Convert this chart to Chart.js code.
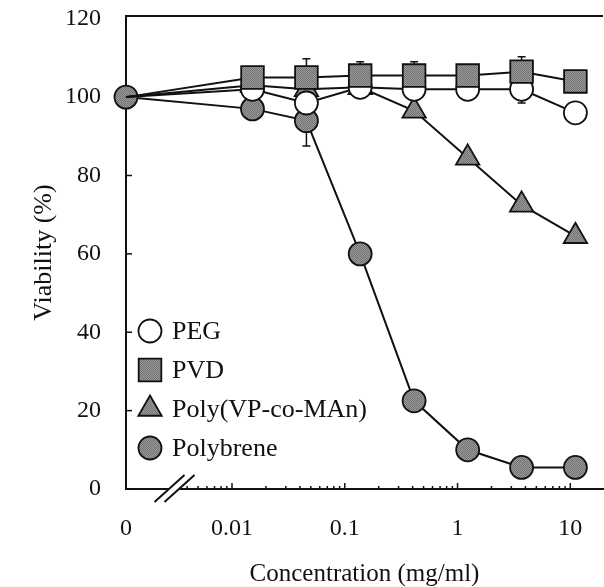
<!DOCTYPE html>
<html>
<head>
<meta charset="utf-8">
<script src="https://cdn.jsdelivr.net/npm/chart.js@4.4.0/dist/chart.umd.min.js"></script>
<style>
  html, body { margin: 0; padding: 0; background: #fff; overflow: hidden; }
  canvas { display: block; }
</style>
</head>
<body>
<canvas id="viability-chart" width="604" height="587"></canvas>
<script>
// Concentrations in mg/ml, 0 is the untreated control
const concentrations = [0, 0.0152, 0.0457, 0.137, 0.412, 1.23, 3.70, 11.1];

// Viability (%) for each polymer
const pegValues = [100, 102, 98.5, 102.5, 102, 102, 102, 96];
const pvdValues = [100, 105, 105, 105.5, 105.5, 105.5, 106.5, 104];
const polyVpValues = [100, 103, 102, 102.5, 96.5, 84.5, 72.5, 64.5];
const polybreneValues = [100, 97, 94, 60, 22.5, 10, 5.5, 5.5];

// Error bars that can be seen on the picture (0 = none visible)
const pegErrors = [0, 0, 0, 0, 0, 0, 3.5, 0];
const pvdErrors = [0, 0, 4.8, 3.5, 3.5, 0, 3.8, 0];
const polyVpErrors = [0, 0, 0, 0, 0, 0, 0, 0];
const polybreneErrors = [0, 0, 6.5, 0, 0, 0, 0, 0];

// Axis ticks
const xTickValues = [0, 0.01, 0.1, 1, 10];
const xTickLabels = ["0", "0.01", "0.1", "1", "10"];
const yTickValues = [0, 20, 40, 60, 80, 100, 120];

// x axis is log10 of the concentration, the control is drawn at the left edge
const X_ZERO = -2.94;
const X_MAX = 1.29;
const X_BREAK = -2.51;

function toX(c) {
  return c === 0 ? X_ZERO : Math.log10(c);
}

// small stippled grey like the printed markers
function makeGrey() {
  const c = document.createElement("canvas");
  c.width = 2;
  c.height = 2;
  const g = c.getContext("2d");
  g.fillStyle = "#9a9a9a";
  g.fillRect(0, 0, 2, 2);
  g.fillStyle = "#727272";
  g.fillRect(0, 0, 1, 1);
  g.fillRect(1, 1, 1, 1);
  return g.createPattern(c, "repeat");
}
const grey = makeGrey();

function points(values) {
  return concentrations.map((c, i) => ({ x: toX(c), y: values[i] }));
}

// only one marker is drawn at the control point
function radiusFor(r) {
  return concentrations.map((c, i) => (i === 0 ? 0 : r));
}

const serif = "'Liberation Serif', 'Times New Roman', serif";
const ink = "#111";

// inward tick marks, error bars, top border, axis break and legend
const decorations = {
  id: "decorations",
  beforeDatasetsDraw(chart) {
    const { ctx, chartArea, scales } = chart;
    const xs = scales.x;
    const ys = scales.y;
    ctx.save();
    ctx.strokeStyle = ink;
    ctx.lineWidth = 1.5;

    // y ticks
    yTickValues.slice(0, -1).forEach((v) => {
      const y = ys.getPixelForValue(v);
      ctx.beginPath();
      ctx.moveTo(chartArea.left, y);
      ctx.lineTo(chartArea.left + 6, y);
      ctx.stroke();
    });

    // x major ticks
    xTickValues.slice(1).forEach((c) => {
      const x = xs.getPixelForValue(toX(c));
      ctx.beginPath();
      ctx.moveTo(x, chartArea.bottom);
      ctx.lineTo(x, chartArea.bottom - 6);
      ctx.stroke();
    });

    // x minor ticks
    for (let d = -3; d <= 1; d++) {
      for (let m = 2; m <= 9; m++) {
        const lx = Math.log10(m) + d;
        if (lx < Math.log10(0.004) || lx > X_MAX) continue;
        const x = xs.getPixelForValue(lx);
        ctx.beginPath();
        ctx.moveTo(x, chartArea.bottom);
        ctx.lineTo(x, chartArea.bottom - 3);
        ctx.stroke();
      }
    }

    // error bars, drawn under the markers
    chart.data.datasets.forEach((ds) => {
      ds.errors.forEach((err, i) => {
        if (!err) return;
        const x = xs.getPixelForValue(toX(concentrations[i]));
        const y1 = ys.getPixelForValue(ds.data[i].y + err);
        const y2 = ys.getPixelForValue(ds.data[i].y - err);
        ctx.beginPath();
        ctx.moveTo(x, y1);
        ctx.lineTo(x, y2);
        ctx.moveTo(x - 4, y1);
        ctx.lineTo(x + 4, y1);
        ctx.moveTo(x - 4, y2);
        ctx.lineTo(x + 4, y2);
        ctx.stroke();
      });
    });

    // top border
    ctx.lineWidth = 2;
    ctx.beginPath();
    ctx.moveTo(chartArea.left - 1, chartArea.top);
    ctx.lineTo(chartArea.right, chartArea.top);
    ctx.stroke();
    ctx.restore();
  },
  afterDraw(chart) {
    const { ctx, chartArea, scales } = chart;
    ctx.save();

    // axis break "//"
    const bx = scales.x.getPixelForValue(X_BREAK);
    const by = chartArea.bottom;
    ctx.fillStyle = "#fff";
    ctx.beginPath();
    ctx.moveTo(bx - 5 - 3, by + 3);
    ctx.lineTo(bx + 5 - 3, by + 3);
    ctx.lineTo(bx + 5 + 3, by - 3);
    ctx.lineTo(bx - 5 + 3, by - 3);
    ctx.closePath();
    ctx.fill();
    ctx.strokeStyle = ink;
    ctx.lineWidth = 2;
    [-5, 5].forEach((dx) => {
      ctx.beginPath();
      ctx.moveTo(bx + dx - 15, by + 13);
      ctx.lineTo(bx + dx + 15, by - 14);
      ctx.stroke();
    });

    // legend inside the plot
    const lx = chartArea.left + 24;
    let ly = 331;
    ctx.font = "26px " + serif;
    ctx.textBaseline = "middle";
    ctx.textAlign = "left";
    chart.data.datasets.forEach((ds) => {
      ctx.fillStyle = ds.pointBackgroundColor;
      ctx.strokeStyle = ink;
      ctx.lineWidth = 1.8;
      Chart.helpers.drawPoint(ctx, {
        pointStyle: ds.pointStyle,
        radius: ds.legendRadius,
        rotation: 0,
        borderWidth: 1.8
      }, lx, ly);
      ctx.fillStyle = ink;
      ctx.fillText(ds.label, lx + 22, ly + 1);
      ly += 39;
    });
    ctx.restore();
  }
};

function makeDataset(label, values, errors, style, r, fill, order) {
  return {
    label: label,
    data: points(values),
    errors: errors,
    order: order,
    borderColor: ink,
    borderWidth: 2,
    tension: 0,
    fill: false,
    pointStyle: style,
    pointRadius: label === "Polybrene" ? r : radiusFor(r),
    legendRadius: r,
    pointBackgroundColor: fill,
    pointBorderColor: ink,
    pointBorderWidth: 1.8,
    clip: false
  };
}

function createViabilityChart() {
  const ctx = document.getElementById("viability-chart").getContext("2d");

  return new Chart(ctx, {
    type: "line",
    data: {
      datasets: [
        makeDataset("PEG", pegValues, pegErrors, "circle", 11.5, "#fff", 1),
        makeDataset("PVD", pvdValues, pvdErrors, "rect", 16, grey, 0),
        makeDataset("Poly(VP-co-MAn)", polyVpValues, polyVpErrors, "triangle", 13.5, grey, 2),
        makeDataset("Polybrene", polybreneValues, polybreneErrors, "circle", 11.5, grey, 3)
      ]
    },
    options: {
      responsive: false,
      animation: false,
      events: [],
      layout: {
        autoPadding: false,
        padding: { top: 16, right: 1, left: 0, bottom: 0 }
      },
      plugins: {
        legend: { display: false },
        tooltip: { enabled: false }
      },
      scales: {
        x: {
          type: "linear",
          min: X_ZERO,
          max: X_MAX,
          afterFit: (scale) => {
            scale.height = 98;
            scale.paddingLeft = 0;
            scale.paddingRight = 0;
          },
          afterBuildTicks: (scale) => {
            scale.ticks = xTickValues.map((c) => ({ value: toX(c) }));
          },
          grid: { display: false, drawTicks: false },
          border: { display: true, color: ink, width: 2 },
          ticks: {
            autoSkip: false,
            maxRotation: 0,
            padding: 25,
            color: ink,
            font: { family: serif, size: 24 },
            callback: (value, index) => xTickLabels[index]
          },
          title: {
            display: true,
            text: "Concentration (mg/ml)",
            color: ink,
            font: { family: serif, size: 25, lineHeight: 1 },
            padding: { top: 0, bottom: 0 }
          }
        },
        y: {
          min: 0,
          max: 120.7,
          afterFit: (scale) => {
            scale.width = 126;
            scale.paddingTop = 0;
            scale.paddingBottom = 0;
          },
          afterBuildTicks: (scale) => {
            scale.ticks = yTickValues.map((v) => ({ value: v }));
          },
          grid: { display: false, drawTicks: false },
          border: { display: true, color: ink, width: 2 },
          ticks: {
            padding: 25,
            color: ink,
            font: { family: serif, size: 24 },
            callback: (value) => String(value)
          },
          title: {
            display: true,
            text: "Viability (%)",
            color: ink,
            font: { family: serif, size: 26, lineHeight: 1 },
            padding: { top: 31, bottom: 0 }
          }
        }
      }
    },
    plugins: [decorations]
  });
}

const viabilityChart = createViabilityChart();
</script>
</body>
</html>
